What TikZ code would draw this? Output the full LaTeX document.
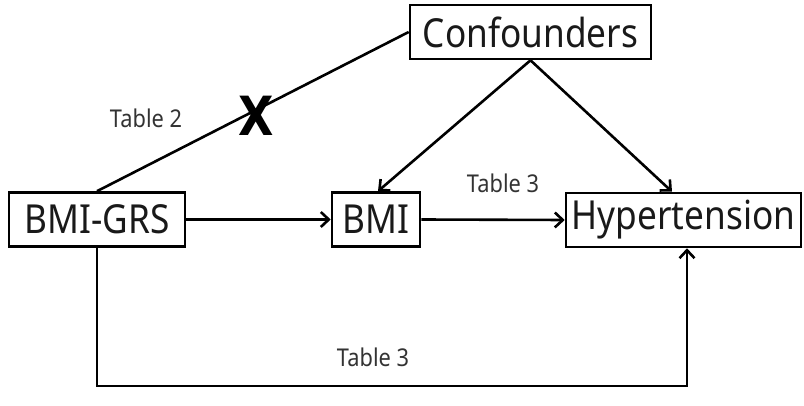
\documentclass[tikz,border=0pt]{standalone}
\usepackage{fontspec}
\setmainfont{Noto Sans}
\newfontfamily\boxfont[FakeStretch=0.88]{Noto Sans}
\newfontfamily\labfont[FakeStretch=0.89]{Noto Sans}
\newfontfamily\xfont[FakeStretch=0.85]{DejaVu Sans}
\usetikzlibrary{arrows.meta}
\begin{document}
\begin{tikzpicture}[x=1pt,y=-1pt,
  box/.style={draw=black, line width=2.6pt, inner sep=0pt, fill=white,
    font=\boxfont\fontsize{40}{42}\selectfont, text=black!90},
  lab/.style={font=\labfont\fontsize{24.5}{26}\selectfont, text=black!80, inner sep=0pt},
  conn/.style={line width=2.6pt, draw=black},
  arr/.style={conn, -{Straight Barb[length=8pt,width=15pt]}}]
\useasboundingbox (0,0) rectangle (804,406);
\fill[white] (0,0) rectangle (804,406);
\node[box, minimum width=241pt, minimum height=54pt] (conf) at (530.5,32) {Confounders};
\node[box, minimum width=176pt, minimum height=54pt] (grs) at (97,219.5) {BMI-GRS};
\node[box, minimum width=88pt, minimum height=54pt] (bmi) at (376,219.5) {BMI};
\node[box, minimum width=235pt, minimum height=54pt] (hyp) at (683.5,220) {Hypertension};
\draw[conn] (grs.north) -- (conf.west);
\node[inner sep=0pt, font=\xfont\bfseries\fontsize{54}{56}\selectfont] (x) at (256.5,116) {X};
\draw[arr] (conf.south) -- ([xshift=2pt]bmi.north);
\draw[arr] (conf.south) -- ([xshift=-11.5pt]hyp.north);
\draw[arr] (grs.east) -- (bmi.west);
\draw[arr] (bmi.east) -- (hyp.west);
\draw[arr] (grs.south) -- ++(0,138) -| ([xshift=3.5pt]hyp.south);
\node[lab] (t2) at (146,118) {Table 2};
\node[lab] (t3a) at (503,183) {Table 3};
\node[lab] (t3b) at (373,357) {Table 3};
\end{tikzpicture}
\end{document}
